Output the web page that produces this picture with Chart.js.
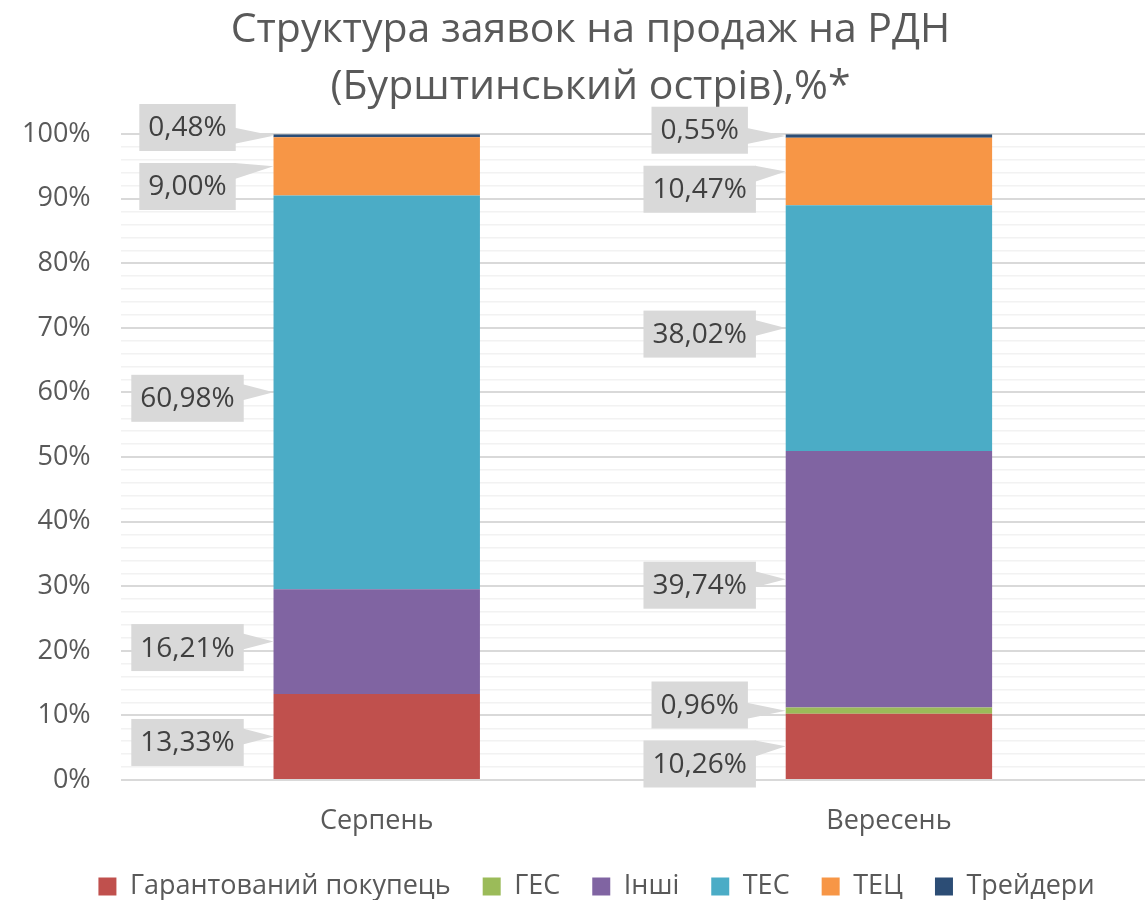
<!DOCTYPE html>
<html>
<head>
<meta charset="utf-8">
<script src="https://cdn.jsdelivr.net/npm/chart.js@4"></script>
<style>
  html, body { margin: 0; padding: 0; background: #fff; }
  #wrap { width: 1145px; height: 900px; }
</style>
</head>
<body>
<div id="wrap"><canvas id="chart"></canvas></div>
<script>
// Chart data
const months = ['Серпень', 'Вересень'];
const seriesNames = ['Гарантований покупець', 'ГЕС', 'Інші', 'ТЕС', 'ТЕЦ', 'Трейдери'];
const guaranteedBuyer = [13.33, 10.26];
const hydro = [0, 0.96];
const others = [16.21, 39.74];
const thermal = [60.98, 38.02];
const chp = [9.00, 10.47];
const traders = [0.48, 0.55];
const yTicks = [0, 10, 20, 30, 40, 50, 60, 70, 80, 90, 100];

const seriesValues = [guaranteedBuyer, hydro, others, thermal, chp, traders];
const seriesColors = ['#C0504D', '#9BBB59', '#8064A2', '#4BACC6', '#F79646', '#2C4D75'];

const FONT = '"Open Sans", "Noto Sans", sans-serif';
const TEXT_GRAY = '#595959';

const fmt = v => v.toFixed(2).replace('.', ',') + '%';

// Callout labels to the left of each bar
const calloutPlugin = {
    id: 'callouts',
    afterLayout(chart) {
        // title and legend sit a bit right of the canvas centre
        chart.titleBlock.left += 22;
        chart.titleBlock.right += 22;
        chart.legend.left += 35;
        chart.legend.right += 35;
    },
    afterDatasetsDraw(chart) {
        const ctx = chart.ctx;
        const boxH = 47;
        const padX = 9;
        const gap = 12;
        ctx.save();
        ctx.font = '28px ' + FONT;

        months.forEach((m, i) => {
            const items = [];
            chart.data.datasets.forEach((ds, d) => {
                const v = ds.data[i];
                if (!v) return;
                const bar = chart.getDatasetMeta(d).data[i];
                const tipY = (bar.y + bar.base) / 2;
                items.push({
                    text: fmt(v),
                    tipX: bar.x - bar.width / 2,
                    tipY: tipY,
                    cy: tipY + 6
                });
            });

            // push overlapping boxes apart
            items.sort((a, b) => b.cy - a.cy);
            for (let it = 0; it < 20; it++) {
                for (let k = 0; k < items.length - 1; k++) {
                    const lower = items[k], upper = items[k + 1];
                    const need = boxH + gap;
                    const diff = lower.cy - upper.cy;
                    if (diff < need) {
                        const shift = (need - diff) / 2;
                        lower.cy += shift;
                        upper.cy -= shift;
                    }
                }
            }

            items.forEach(item => {
                const w = ctx.measureText(item.text).width + padX * 2;
                const cx = item.tipX - 86;
                const left = cx - w / 2;
                const right = cx + w / 2;
                const top = item.cy - boxH / 2;
                const bottom = item.cy + boxH / 2;

                let b1 = Math.max(top, Math.min(item.tipY - 8, bottom - 16));
                let b2 = Math.min(bottom, b1 + 16);

                ctx.fillStyle = '#D9D9D9';
                ctx.fillRect(left, top, w, boxH);
                ctx.beginPath();
                ctx.moveTo(right - 1, b1);
                ctx.lineTo(item.tipX, item.tipY);
                ctx.lineTo(right - 1, b2);
                ctx.closePath();
                ctx.fill();

                ctx.fillStyle = '#404040';
                ctx.textAlign = 'center';
                ctx.textBaseline = 'middle';
                ctx.fillText(item.text, cx, item.cy + 1);
            });
        });
        ctx.restore();
    }
};

const datasets = seriesNames.map((name, k) => ({
    label: name,
    data: seriesValues[k],
    backgroundColor: seriesColors[k],
    borderWidth: 0,
    barPercentage: 0.403,
    categoryPercentage: 1
}));

new Chart(document.getElementById('chart'), {
    type: 'bar',
    data: { labels: months, datasets: datasets },
    plugins: [calloutPlugin],
    options: {
        responsive: true,
        maintainAspectRatio: false,
        animation: false,
        layout: { padding: { left: -8, right: 0, top: 0, bottom: -10 } },
        plugins: {
            title: {
                display: true,
                text: ['Структура заявок на продаж на РДН', '(Бурштинський острів),%*'],
                color: TEXT_GRAY,
                font: { family: FONT, size: 41, weight: 'normal', lineHeight: 1.38 },
                padding: { top: 2, bottom: 19 }
            },
            legend: {
                position: 'bottom',
                labels: {
                    color: TEXT_GRAY,
                    font: { family: FONT, size: 27, lineHeight: 1.0 },
                    boxWidth: 18,
                    boxHeight: 18,
                    padding: 18,
                    generateLabels: chart => {
                        const items = Chart.defaults.plugins.legend.labels.generateLabels(chart);
                        items.forEach(it => { it.text = it.text + '  '; });
                        return items;
                    }
                }
            },
            tooltip: { enabled: false }
        },
        scales: {
            x: {
                stacked: true,
                grid: { display: false },
                border: { display: false },
                ticks: {
                    color: TEXT_GRAY,
                    font: { family: FONT, size: 27, lineHeight: 1.0 },
                    padding: 20
                }
            },
            y: {
                stacked: true,
                min: 0,
                max: 100,
                border: { display: false },
                grid: {
                    color: c => (c.tick && c.tick.value % 10 === 0) ? '#D9D9D9' : '#F2F2F2',
                    lineWidth: c => (c.tick && c.tick.value % 10 === 0) ? 2 : 1.5,
                    drawTicks: false
                },
                ticks: {
                    stepSize: 2,
                    autoSkip: false,
                    color: TEXT_GRAY,
                    font: { family: FONT, size: 27 },
                    padding: 30,
                    callback: v => yTicks.includes(v) ? v + '%' : ''
                }
            }
        }
    }
});
</script>
</body>
</html>
